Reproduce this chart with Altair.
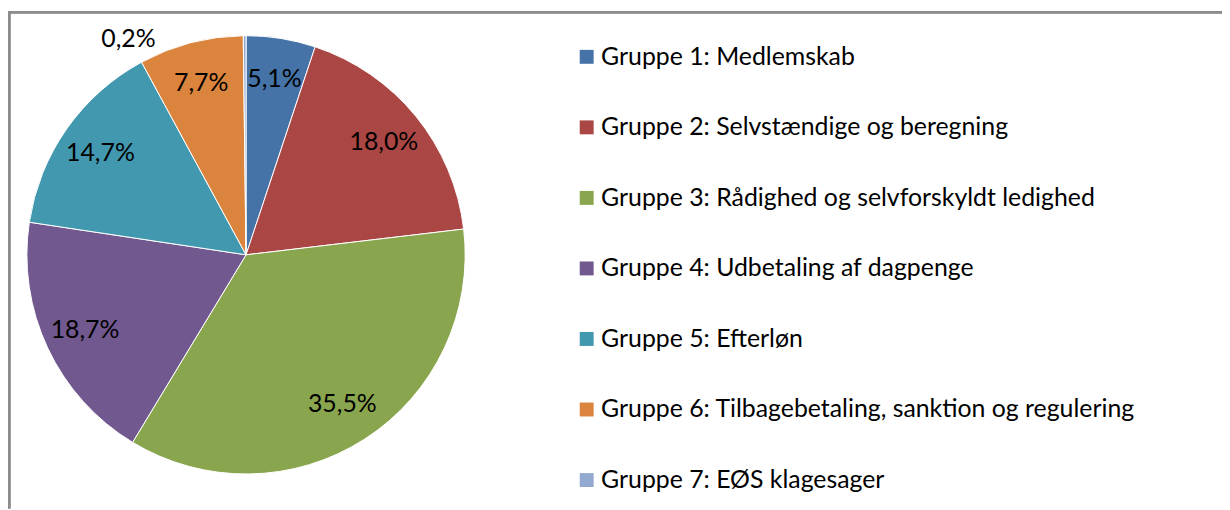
import altair as alt
import pandas as pd

groups = [
    "Gruppe 1: Medlemskab",
    "Gruppe 2: Selvstændige og beregning",
    "Gruppe 3: Rådighed og selvforskyldt ledighed",
    "Gruppe 4: Udbetaling af dagpenge",
    "Gruppe 5: Efterløn",
    "Gruppe 6: Tilbagebetaling, sanktion og regulering",
    "Gruppe 7: EØS klagesager",
]
shares = [5.1, 18.0, 35.5, 18.7, 14.7, 7.7, 0.2]
labels = ["5,1%", "18,0%", "35,5%", "18,7%", "14,7%", "7,7%", "0,2%"]
colors = ["#4572A7", "#AA4643", "#89A54E", "#71588F", "#4198AF", "#DB843D", "#93A9CF"]

df = pd.DataFrame({"gruppe": groups, "andel": shares, "label": labels, "ordre": list(range(len(groups)))})

FONT = "Lato"
FS = 25
W, H = 1222, 502
CX, CY = 239.6, 246.8
R = 220.6

base = alt.Chart(df)
theta = alt.Theta("andel:Q", stack=True)
order = alt.Order("ordre:Q", sort="ascending")

arcs = base.mark_arc(outerRadius=R, stroke="white", strokeWidth=1).encode(
    theta=theta,
    order=order,
    x=alt.value(CX),
    y=alt.value(CY),
    color=alt.Color(
        "gruppe:N",
        scale=alt.Scale(domain=groups, range=colors),
        sort=groups,
        legend=alt.Legend(
            title=None,
            orient="none",
            legendX=570,
            legendY=35,
            symbolType="square",
            symbolSize=196,
            symbolStrokeWidth=0,
            labelFont=FONT,
            labelFontSize=FS,
            labelColor="black",
            labelOffset=2,
            labelLimit=0,
            rowPadding=45,
        ),
    ),
)

inner = base.mark_text(radius=179, font=FONT, fontSize=FS, color="black", align="center", baseline="middle").encode(
    theta=theta,
    order=order,
    x=alt.value(CX),
    y=alt.value(CY),
    text=alt.condition("datum.andel >= 1", "label:N", alt.value("")),
)

outer = base.mark_text(radius=217, dx=-117, font=FONT, fontSize=FS, color="black", align="center", baseline="middle").encode(
    theta=theta,
    order=order,
    x=alt.value(CX),
    y=alt.value(CY),
    text=alt.condition("datum.andel < 1", "label:N", alt.value("")),
)

top_line = base.mark_rule(color="#8c8c8c", strokeWidth=2.5).encode(
    x=alt.value(0), x2=alt.value(W), y=alt.value(2.5)
)
left_line = base.mark_rule(color="#8c8c8c", strokeWidth=2.5).encode(
    x=alt.value(1), y=alt.value(2.5), y2=alt.value(H)
)

chart = (
    alt.layer(top_line, left_line, arcs, inner, outer)
    .properties(width=W, height=H, padding=0, autosize=alt.AutoSizeParams(type="none"), background="white")
    .configure_view(stroke=None)
)

chart.save("out.html", embed_options={"renderer": "svg", "actions": False})
